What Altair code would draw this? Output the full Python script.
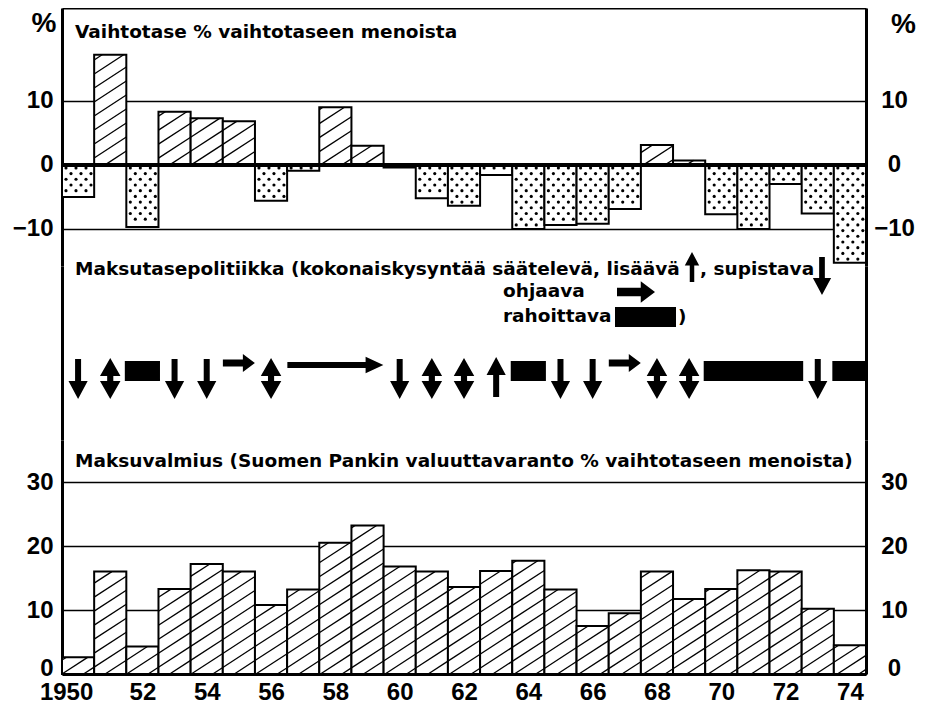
import math
import pandas as pd
import altair as alt

# ---------------- data ----------------
years = list(range(1950, 1975))
current_account = [-5.0, 17.2, -9.7, 8.3, 7.3, 6.8, -5.6, -0.9, 9.0, 3.0, -0.4, -5.2, -6.4,
                   -1.6, -10.0, -9.4, -9.2, -6.9, 3.1, 0.7, -7.7, -10.0, -3.0, -7.6, -15.3]
liquidity = [2.6, 16.0, 4.3, 13.3, 17.2, 16.0, 10.8, 13.2, 20.5, 23.2, 16.8, 16.0, 13.6,
             16.1, 17.7, 13.2, 7.5, 9.5, 16.0, 11.7, 13.3, 16.2, 16.0, 10.2, 4.5]
policy = ["down", "both", "fin", "down", "down", "steer", "both", "steer", "steer", "steer",
          "down", "both", "both", "up", "fin", "down", "down", "steer", "both", "both",
          "fin", "fin", "fin", "down", "fin"]
top_ticks = [-10, 0, 10]
bottom_ticks = [0, 10, 20, 30]
year_ticks = list(range(1950, 1975, 2))

unit_label = "%"
title_top = "Vaihtotase % vaihtotaseen menoista"
title_mid = "Maksutasepolitiikka (kokonaiskysyntää säätelevä, lisäävä"
title_mid_b = ", supistava"
legend_steer = "ohjaava"
legend_fin = "rahoittava"
legend_close = ")"
title_bottom = "Maksuvalmius (Suomen Pankin valuuttavaranto % vaihtotaseen menoista)"

# ---------------- layout / style constants ----------------
W = 804
X0, X1 = 1949.5, 1974.5
PX_YEAR = W / (X1 - X0)
PX_UNIT = 6.4
H_TOP = 258
TOP_LO = -15.8
TOP_HI = TOP_LO + H_TOP / PX_UNIT
H_MID = 174
H_BOT = 234
BOT_HI = H_BOT / PX_UNIT

TXT_FONT = "DejaVu Sans"
NUM_FONT = "Liberation Sans"
TXT_SIZE = 18.5

DOWN = "M -0.15 -1 L 0.15 -1 L 0.15 0.1 L 0.48 0.1 L 0 1 L -0.48 0.1 L -0.15 0.1 Z"
UP = "M -0.15 1 L 0.15 1 L 0.15 -0.1 L 0.48 -0.1 L 0 -1 L -0.48 -0.1 L -0.15 -0.1 Z"
BOTH = ("M 0 -1 L 0.5 -0.12 L 0.15 -0.12 L 0.15 0.12 L 0.5 0.12 L 0 1 L -0.5 0.12 "
        "L -0.15 0.12 L -0.15 -0.12 L -0.5 -0.12 Z")
SHORT = "M -1 -0.22 L 0.25 -0.22 L 0.25 -0.56 L 1 0 L 0.25 0.56 L 0.25 0.22 L -1 0.22 Z"
LONG = ("M -1 -0.06 L 0.63 -0.06 L 0.63 -0.17 L 1 0 L 0.63 0.17 L 0.63 0.06 "
        "L -1 0.06 Z")

ZERO_LIFT = {"condition": {"test": "datum.value == 0", "value": -6}, "value": 0}


def hatch_segments(yrs, vals, slope=0.65, gap=14.0):
    rows = []
    for yr, v in zip(yrs, vals):
        if v <= 0:
            continue
        xa = (yr - 0.5 - X0) * PX_YEAR
        xb = xa + PX_YEAR
        top = v * PX_UNIT
        kmin = -slope * xb
        kmax = top - slope * xa
        for n in range(math.ceil(kmin / gap), math.floor(kmax / gap) + 1):
            k = n * gap
            x1 = max(xa, (0 - k) / slope)
            x2 = min(xb, (top - k) / slope)
            if x2 - x1 > 0.8:
                rows.append({"x": X0 + x1 / PX_YEAR, "x2": X0 + x2 / PX_YEAR,
                             "y": (slope * x1 + k) / PX_UNIT,
                             "y2": (slope * x2 + k) / PX_UNIT})
    return pd.DataFrame(rows)


def dot_grid(yrs, vals, col_gap=10.0, row_gap=5.7):
    rows = []
    for yr, v in zip(yrs, vals):
        if v >= 0:
            continue
        xa = (yr - 0.5 - X0) * PX_YEAR
        xb = xa + PX_YEAR
        depth = -v * PX_UNIT
        i = 0
        yy = 3.0
        while yy <= depth - 2.5:
            xx = xa + 4.0 + (5.0 if i % 2 else 0.0)
            while xx <= xb - 2.5:
                rows.append({"x": X0 + xx / PX_YEAR, "y": -yy / PX_UNIT})
                xx += col_gap
            i += 1
            yy += row_gap
    return pd.DataFrame(rows)


def left_axis(values, grid, labels=True, lift_zero=False):
    kw = dict(orient="left", values=values, grid=grid, gridColor="black", gridWidth=1.5,
              ticks=False, domain=True, domainColor="black", domainWidth=3,
              labels=labels, labelFont=NUM_FONT, labelFontWeight="bold",
              labelFontSize=24, labelColor="black", labelPadding=9,
              labelBaseline="middle", title=None)
    if lift_zero:
        kw["labelOffset"] = ZERO_LIFT
    return alt.Axis(**kw)


def right_axis(values, labels=True, title=None, lift_zero=False):
    kw = dict(orient="right", values=values, grid=False, ticks=False, domain=True,
              domainColor="black", domainWidth=3, labels=labels, labelFont=NUM_FONT,
              labelFontWeight="bold", labelFontSize=24, labelColor="black",
              labelPadding=28, labelAlign="center", labelBaseline="middle", title=title)
    if title:
        kw.update(titleAngle=0, titleX=37, titleY=2, titleAlign="center",
                  titleBaseline="top", titleFont=NUM_FONT, titleFontSize=28,
                  titleFontWeight="bold", titleColor="black")
    if lift_zero:
        kw["labelOffset"] = ZERO_LIFT
    return alt.Axis(**kw)


def text_layer(txt, x, y, font=TXT_FONT, size=TXT_SIZE, align="left", baseline="alphabetic"):
    return alt.Chart(pd.DataFrame({"t": [txt]})).mark_text(
        align=align, baseline=baseline, font=font, fontWeight="bold",
        fontSize=size, color="black").encode(
        x=alt.value(x), y=alt.value(y), text="t:N")


xs = alt.Scale(domain=[X0, X1], nice=False, zero=False)

# ---------------- top panel ----------------
ys_top = alt.Scale(domain=[TOP_LO, TOP_HI], nice=False, zero=False)
ca = pd.DataFrame({"year": years, "value": current_account})
ca["x0"] = ca["year"] - 0.5
ca["x1"] = ca["year"] + 0.5

top_bars = alt.Chart(ca).mark_rect(fill="white", stroke="black", strokeWidth=2).encode(
    x=alt.X("x0:Q", scale=xs, axis=alt.Axis(orient="top", labels=False, ticks=False,
                                             grid=False, domain=True, domainColor="black",
                                             domainWidth=2, title=None)),
    x2="x1:Q",
    y=alt.Y("value:Q", scale=ys_top, axis=left_axis(top_ticks, True)),
    y2=alt.datum(0),
)
top_hatch = alt.Chart(hatch_segments(years, current_account)).mark_rule(
    color="black", strokeWidth=1.3).encode(
    x=alt.X("x:Q", title=None), x2="x2:Q", y=alt.Y("y:Q", title=None), y2="y2:Q")
top_dots = alt.Chart(dot_grid(years, current_account)).mark_circle(
    size=10, color="black", opacity=1).encode(
    x=alt.X("x:Q", title=None), y=alt.Y("y:Q", title=None))
top_zero = alt.Chart(ca).mark_rule(color="black", strokeWidth=3).encode(y=alt.datum(0))
top_text = text_layer(title_top, 13, 30)
top_pct = text_layer(unit_label, -18, 2, font=NUM_FONT, size=28, align="center",
                     baseline="top")
top_right = alt.Chart(ca).mark_point(opacity=0).encode(
    y=alt.Y("value:Q", scale=ys_top, axis=right_axis(top_ticks, title=unit_label)))

panel_top = alt.layer(
    alt.layer(top_bars, top_hatch, top_dots, top_zero, top_text, top_pct), top_right
).resolve_scale(y="independent").properties(width=W, height=H_TOP)

# ---------------- middle panel ----------------
runs = []
i = 0
while i < len(policy):
    j = i
    while j + 1 < len(policy) and policy[j + 1] == policy[i] and policy[i] in ("steer", "fin"):
        j += 1
    runs.append({"code": policy[i], "start": years[i], "end": years[j], "n": j - i + 1})
    i = j + 1
df_runs = pd.DataFrame(runs)
df_runs["mid"] = (df_runs["start"] + df_runs["end"]) / 2
df_runs["x0"] = df_runs["start"] - 0.5
df_runs["x1"] = df_runs["end"] + 0.5

dummy = pd.DataFrame({"v": [0.5]})
mid_left = alt.Chart(dummy).mark_point(opacity=0).encode(
    y=alt.Y("v:Q", scale=alt.Scale(domain=[0, 1]), axis=left_axis([], False, labels=False)))
mid_right = alt.Chart(dummy).mark_point(opacity=0).encode(
    y=alt.Y("v:Q", scale=alt.Scale(domain=[0, 1]), axis=right_axis([], labels=False)))

base_runs = alt.Chart(df_runs)


def sym(code_test, shape, size, yv):
    return base_runs.transform_filter(code_test).mark_point(
        shape=shape, size=size, filled=True, color="black", opacity=1, strokeWidth=0
    ).encode(x=alt.X("mid:Q", scale=xs, axis=None), y=alt.value(yv))


s_down = sym("datum.code == 'down'", DOWN, 1600, 113)
s_up = sym("datum.code == 'up'", UP, 1600, 111)
s_both = sym("datum.code == 'both'", BOTH, 1681, 112.5)
s_short = sym("datum.code == 'steer' && datum.n == 1", SHORT, 1024, 97)
s_long = sym("datum.code == 'steer' && datum.n > 1", LONG, 9216, 99)
s_fin = base_runs.transform_filter("datum.code == 'fin'").mark_rect(
    fill="black", stroke="black", strokeWidth=3).encode(
    x=alt.X("x0:Q", scale=xs, axis=None), x2="x1:Q",
    y=alt.value(96.5), y2=alt.value(113.5))

one = pd.DataFrame({"k": [0]})
leg_up = alt.Chart(one).mark_point(shape=UP, size=900, filled=True, color="black",
                                   opacity=1, strokeWidth=0).encode(
    x=alt.value(630), y=alt.value(1))
leg_down = alt.Chart(one).mark_point(shape=DOWN, size=1444, filled=True, color="black",
                                     opacity=1, strokeWidth=0).encode(
    x=alt.value(760), y=alt.value(10))
leg_steer = alt.Chart(one).mark_point(shape=SHORT, size=1444, filled=True, color="black",
                                      opacity=1, strokeWidth=0).encode(
    x=alt.value(574), y=alt.value(26))
leg_fin = alt.Chart(one).mark_rect(fill="black").encode(
    x=alt.value(553), x2=alt.value(614), y=alt.value(41), y2=alt.value(61))

panel_mid = alt.layer(
    alt.layer(mid_left, s_down, s_up, s_both, s_short, s_long, s_fin,
              text_layer(title_mid, 13, 9), leg_up, text_layer(title_mid_b, 638, 9),
              leg_down, text_layer(legend_steer, 441, 31), leg_steer,
              text_layer(legend_fin, 441, 56), leg_fin, text_layer(legend_close, 616, 57)),
    mid_right
).resolve_scale(y="independent").properties(width=W, height=H_MID)

# ---------------- bottom panel ----------------
ys_bot = alt.Scale(domain=[0, BOT_HI], nice=False, zero=False)
lq = pd.DataFrame({"year": years, "value": liquidity})
lq["x0"] = lq["year"] - 0.5
lq["x1"] = lq["year"] + 0.5

bot_bars = alt.Chart(lq).mark_rect(fill="white", stroke="black", strokeWidth=2).encode(
    x=alt.X("x0:Q", scale=xs, axis=alt.Axis(
        orient="bottom", values=year_ticks, grid=False, ticks=False, domain=True,
        domainColor="black", domainWidth=3, labelFont=NUM_FONT, labelFontWeight="bold",
        labelFontSize=24, labelColor="black", labelPadding=6, labelFlush=False,
        labelOverlap=False,
        labelExpr="datum.value == 1950 ? '1950' : substring(toString(datum.value), 2, 4)",
        labelOffset={"condition": {"test": "datum.value == 1950", "value": -12}, "value": 0},
        title=None)),
    x2="x1:Q",
    y=alt.Y("value:Q", scale=ys_bot, axis=left_axis(bottom_ticks, True, lift_zero=True)),
    y2=alt.datum(0),
)
bot_hatch = alt.Chart(hatch_segments(years, liquidity)).mark_rule(
    color="black", strokeWidth=1.3).encode(
    x=alt.X("x:Q", title=None), x2="x2:Q", y=alt.Y("y:Q", title=None), y2="y2:Q")
bot_text = text_layer(title_bottom, 13, 27)
bot_right = alt.Chart(lq).mark_point(opacity=0).encode(
    y=alt.Y("value:Q", scale=ys_bot, axis=right_axis(bottom_ticks, lift_zero=True)))

panel_bot = alt.layer(
    alt.layer(bot_bars, bot_hatch, bot_text), bot_right
).resolve_scale(y="independent").properties(width=W, height=H_BOT)

chart = alt.vconcat(panel_top, panel_mid, panel_bot, spacing=0, bounds="flush").properties(
    padding={"left": 4, "top": 0, "right": 0, "bottom": 0}
).configure(background="white").configure_view(stroke=None)

chart.save("out.html", embed_options={"renderer": "svg", "actions": False})
